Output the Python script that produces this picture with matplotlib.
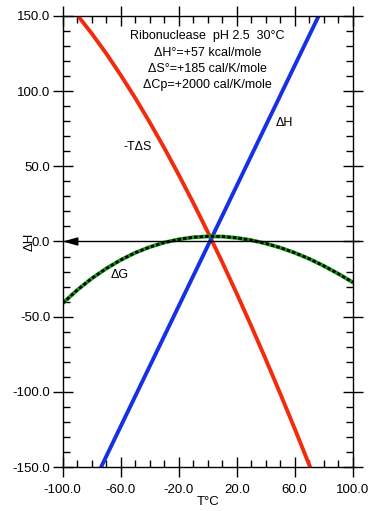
import numpy as np
import matplotlib
matplotlib.use("Agg")
import matplotlib.pyplot as plt
from matplotlib.ticker import MultipleLocator, FormatStrFormatter

plt.rcParams['font.family'] = ['Liberation Sans', 'DejaVu Sans']

# temperature (°C) and energies (kcal/mole)
temp = [-100, -90, -80, -70, -60, -50, -40, -30, -20, -10, 0,
        10, 20, 30, 40, 50, 60, 70, 80, 90, 100]
dH = [-203.0, -183.0, -163.0, -143.0, -123.0, -103.0, -83.0, -63.0, -43.0, -23.0, -3.0,
      17.0, 37.0, 57.0, 77.0, 97.0, 117.0, 137.0, 157.0, 177.0, 197.0]
mTdS = [161.9, 150.7, 138.4, 125.1, 110.7, 95.5, 79.3, 62.3, 44.4, 25.8, 6.4,
        -13.7, -34.6, -56.1, -78.3, -101.1, -124.5, -148.5, -173.2, -198.4, -224.1]
dG = [-41.1, -32.3, -24.6, -18.0, -12.3, -7.5, -3.7, -0.7, 1.4, 2.8, 3.4,
      3.3, 2.4, 0.9, -1.3, -4.1, -7.5, -11.5, -16.2, -21.4, -27.1]

info = ["Ribonuclease  pH 2.5  30°C",
        "ΔH°=+57 kcal/mole",
        "ΔS°=+185 cal/K/mole",
        "ΔCp=+2000 cal/K/mole"]

fig = plt.figure(figsize=(3.79, 5.11), dpi=100)
ax = fig.add_axes([0.1654, 0.0861, 0.7652, 0.8826])

ax.plot(temp, mTdS, color='#f42a0c', lw=2.8, solid_capstyle='butt')
ax.plot(temp, dH, color='#1530e6', lw=2.8, solid_capstyle='butt')
ax.plot(temp, dG, color='#1a9a1a', lw=2.8)
ax.plot(temp, dG, color='black', lw=2.0, ls=(0, (1.2, 0.8)))

ax.annotate('', xy=(-100, 0), xytext=(105, 0), annotation_clip=False,
            arrowprops=dict(arrowstyle='-|>,head_length=0.9,head_width=0.25',
                            color='black', lw=1.0, shrinkA=0, shrinkB=0))

ax.set_xlim(-100, 100)
ax.set_ylim(-150, 150)
ax.set_xticks([-100, -60, -20, 20, 60, 100])
ax.xaxis.set_minor_locator(MultipleLocator(10))
ax.yaxis.set_major_locator(MultipleLocator(50))
ax.yaxis.set_minor_locator(MultipleLocator(10))
ax.xaxis.set_major_formatter(FormatStrFormatter('%.1f'))
ax.yaxis.set_major_formatter(FormatStrFormatter('%.1f'))
ax.tick_params(which='major', direction='inout', length=14, width=1,
               top=True, right=True, labelsize=9.5, pad=2)
ax.tick_params(axis='x', which='major', pad=5)
ax.tick_params(which='minor', direction='in', length=5, width=1,
               top=True, right=True)
for s in ax.spines.values():
    s.set_linewidth(1.0)

for i, line in enumerate(info):
    ax.text(0, 136.5 - i * 10.8, line, ha='center', va='center', fontsize=9)

ax.text(-48, 63, '-TΔS', ha='center', va='center', fontsize=9)
ax.text(53, 79, 'ΔH', ha='center', va='center', fontsize=9)
ax.text(-61, -22, 'ΔG', ha='center', va='center', fontsize=9)

ax.set_xlabel('T°C', fontsize=9.5, labelpad=0)
ax.text(-0.115, 0.5, 'ΔH', rotation=90, ha='center', va='center',
        fontsize=9.5, transform=ax.transAxes)

fig.savefig('out.png', dpi=100)
